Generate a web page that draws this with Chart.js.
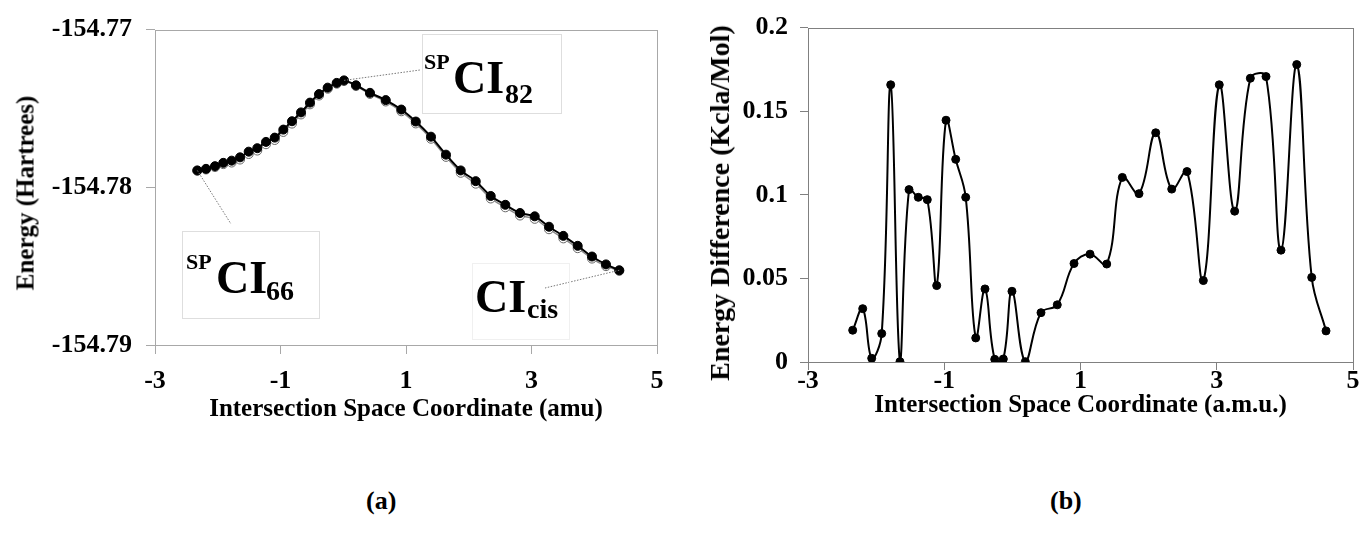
<!DOCTYPE html>
<html><head><meta charset="utf-8">
<script src="https://cdn.jsdelivr.net/npm/chart.js@4.4.1/dist/chart.umd.min.js"></script>
<style>
html,body{margin:0;padding:0;background:#fff;width:1362px;height:554px;overflow:hidden;font-family:"Liberation Serif","Times New Roman",serif;}
#ca{position:absolute;left:0;top:0;}
#cb{position:absolute;left:680px;top:0;}
.t{position:absolute;color:#000;font-weight:bold;line-height:1;white-space:nowrap;font-family:"Liberation Serif","Times New Roman",serif;}
.box{position:absolute;border:1px solid #dedede;}
.yt{position:absolute;color:#000;font-weight:bold;line-height:1;white-space:nowrap;font-family:"Liberation Serif","Times New Roman",serif;transform:translate(-50%,-50%) rotate(-90deg);}
</style></head>
<body>
<canvas id="ca" width="680" height="445"></canvas>
<canvas id="cb" width="682" height="445"></canvas>

<div class="yt" style="left:25px;top:193px;font-size:25px;">Energy (Hartrees)</div>
<div class="yt" style="left:720px;top:203px;font-size:28px;">Energy Difference (Kcla/Mol)</div>

<div class="box" style="left:422px;top:34px;width:138px;height:78px;"></div>
<div class="t" style="left:424px;top:51px;font-size:22px;">SP</div>
<div class="t" style="left:453px;top:55px;font-size:46px;">CI</div>
<div class="t" style="left:505px;top:80px;font-size:28px;">82</div>

<div class="box" style="left:182px;top:231px;width:136px;height:86px;"></div>
<div class="t" style="left:186px;top:251px;font-size:22px;">SP</div>
<div class="t" style="left:216px;top:255px;font-size:46px;">CI</div>
<div class="t" style="left:266px;top:277px;font-size:28px;">66</div>

<div class="box" style="left:472px;top:263px;width:96px;height:75px;border-color:#f0f0f0;"></div>
<div class="t" style="left:475px;top:274px;font-size:46px;">CI</div>
<div class="t" style="left:527px;top:295px;font-size:28px;">cis</div>

<div class="t" style="left:366px;top:488px;font-size:26px;">(a)</div>
<div class="t" style="left:1050px;top:488px;font-size:26px;">(b)</div>

<script>
// ---- Chart (a): energy along intersection space coordinate ----
const xA = [-2.326,-2.187,-2.044,-1.912,-1.778,-1.645,-1.507,-1.370,-1.231,-1.092,-0.955,-0.817,-0.673,-0.530,-0.386,-0.248,-0.104,0.012,0.203,0.426,0.677,0.925,1.156,1.398,1.637,1.872,2.111,2.350,2.583,2.817,3.051,3.279,3.507,3.736,3.964,4.187,4.399];
const yA = [-154.77893,-154.77883,-154.77866,-154.77845,-154.77831,-154.77810,-154.77774,-154.77752,-154.77712,-154.77685,-154.77634,-154.77581,-154.77525,-154.77463,-154.77409,-154.77368,-154.77338,-154.77322,-154.77353,-154.77401,-154.77447,-154.77507,-154.77583,-154.77679,-154.77793,-154.77893,-154.77961,-154.78055,-154.78111,-154.78163,-154.78184,-154.78250,-154.78308,-154.78371,-154.78439,-154.78489,-154.78526];
const yA2 = [-154.77895,-154.77887,-154.77872,-154.77853,-154.77843,-154.77824,-154.77789,-154.77767,-154.77727,-154.77700,-154.77649,-154.77596,-154.77538,-154.77474,-154.77418,-154.77375,-154.77343,-154.77326,-154.77358,-154.77408,-154.77456,-154.77518,-154.77595,-154.77692,-154.77807,-154.77908,-154.77977,-154.78071,-154.78127,-154.78179,-154.78200,-154.78266,-154.78324,-154.78386,-154.78452,-154.78500,-154.78530];
const xTicksA = [-3,-1,1,3,5];
const xTickLabelsA = ['-3','-1','1','3','5'];
const yTicksA = [-154.79,-154.78,-154.77];
const yTickLabelsA = ['-154.79','-154.78','-154.77'];

// ---- Chart (b): energy difference ----
const xB = [-2.344,-2.197,-2.065,-1.918,-1.786,-1.650,-1.517,-1.381,-1.249,-1.111,-0.974,-0.832,-0.685,-0.538,-0.402,-0.259,-0.133,-0.006,0.190,0.420,0.659,0.905,1.140,1.385,1.614,1.859,2.104,2.339,2.563,2.803,3.037,3.263,3.493,3.723,3.943,4.174,4.394,4.604];
const yB = [0.0190,0.0319,0.0022,0.0170,0.1658,0.0002,0.1031,0.0985,0.0971,0.0457,0.1446,0.1212,0.0985,0.0144,0.0437,0.0016,0.0018,0.0423,0.0002,0.0295,0.0342,0.0589,0.0645,0.0586,0.1104,0.1007,0.1371,0.1034,0.1139,0.0487,0.1658,0.0902,0.1697,0.1707,0.0669,0.1779,0.0506,0.0186];
const xTicksB = [-3,-1,1,3,5];
const xTickLabelsB = ['-3','-1','1','3','5'];
const yTicksB = [0,0.05,0.1,0.15,0.2];
const yTickLabelsB = ['0','0.05','0.1','0.15','0.2'];

const SERIF = '"Liberation Serif","Times New Roman",serif';

const frame = {
  id:'frame',
  beforeDatasetsDraw(chart, args, opts){
    const {ctx, chartArea:a} = chart;
    ctx.save();
    ctx.strokeStyle = opts.color; ctx.lineWidth = 1;
    ctx.strokeRect(Math.round(a.left)+0.5, Math.round(a.top)+0.5, Math.round(a.right-a.left), Math.round(a.bottom-a.top));
    ctx.restore();
  }
};

const leaders = {
  id:'leaders',
  afterDatasetsDraw(chart, args, opts){
    if(!opts.items) return;
    const {ctx} = chart; const xs = chart.scales.x, ys = chart.scales.y;
    ctx.save();
    ctx.strokeStyle = '#777'; ctx.lineWidth = 1; ctx.setLineDash([1.5,1.5]);
    opts.items.forEach(it => {
      const px = xs.getPixelForValue(xA[it.i]), py = ys.getPixelForValue(yA[it.i]);
      ctx.beginPath(); ctx.moveTo(px,py); ctx.lineTo(it.to[0], it.to[1]); ctx.stroke();
    });
    ctx.restore();
  }
};

function mkTicks(values, labels){
  return {
    afterBuildTicks(s){ s.ticks = values.map(v => ({value:v})); },
    cb(v){ const k = values.findIndex(t => Math.abs(t - v) < 1e-9); return k >= 0 ? labels[k] : ''; }
  };
}

function makeChart(id, cfg){
  const tx = mkTicks(cfg.xTicks, cfg.xLabels), ty = mkTicks(cfg.yTicks, cfg.yLabels);
  return new Chart(document.getElementById(id), {
    type:'line',
    data:{ datasets: cfg.datasets },
    options:{
      responsive:false, animation:false,
      layout:{ padding: cfg.padding },
      plugins:{ legend:{display:false}, tooltip:{enabled:false}, frame:{color:cfg.axisColor}, leaders:{items:cfg.leaders} },
      scales:{
        x:{ type:'linear', min:cfg.xTicks[0], max:cfg.xTicks[cfg.xTicks.length-1],
            afterBuildTicks: tx.afterBuildTicks,
            afterFit(s){ s.height = cfg.xHeight; },
            border:{display:false},
            grid:{ drawOnChartArea:false, drawTicks:true, tickLength:cfg.tickLen, color:cfg.axisColor, tickColor:cfg.axisColor },
            ticks:{ callback: tx.cb, color:'#000', padding:cfg.xTickPad, maxRotation:0, font:{family:SERIF, size:cfg.tickSize, weight:'bold'} },
            title:{ display:true, text:cfg.xTitle, color:'#000', padding:{top:0,bottom:cfg.xTitlePad}, font:{family:SERIF, size:25, weight:'bold'} } },
        y:{ type:'linear', min:cfg.yTicks[0], max:cfg.yTicks[cfg.yTicks.length-1],
            afterBuildTicks: ty.afterBuildTicks,
            afterFit(s){ s.width = cfg.yWidth; },
            border:{display:false},
            grid:{ drawOnChartArea:false, drawTicks:true, tickLength:cfg.tickLen, color:cfg.axisColor, tickColor:cfg.axisColor },
            ticks:{ callback: ty.cb, color:'#000', padding:cfg.yTickPad, font:{family:SERIF, size:cfg.tickSize, weight:'bold'} },
            title:{ display:false } }
      }
    },
    plugins:[frame, leaders]
  });
}

makeChart('ca', {
  datasets:[
    { data: xA.map((x,i)=>({x, y:yA[i]})), order:0, borderColor:'#000', borderWidth:2, tension:0.3,
      pointRadius:4.5, pointBackgroundColor:'#000', pointBorderColor:'#000', pointBorderWidth:1 },
    { data: xA.map((x,i)=>({x, y:yA2[i]})), order:1, borderColor:'#8a8a8a', borderWidth:1.5, tension:0.3,
      pointRadius:4.5, pointBackgroundColor:'#fff', pointBorderColor:'#666', pointBorderWidth:1 }
  ],
  xTicks:xTicksA, xLabels:xTickLabelsA, yTicks:yTicksA, yLabels:yTickLabelsA,
  padding:{left:5, top:26, right:23, bottom:0},
  xHeight:100, yWidth:150, tickLen:9, tickSize:26, xTickPad:12, yTickPad:14,
  xTitle:'Intersection Space Coordinate (amu)', xTitlePad:20,
  axisColor:'#a8a8a8',
  leaders:[ {i:17, to:[420,70]}, {i:0, to:[231,224]}, {i:36, to:[545,288]} ]
});

makeChart('cb', {
  datasets:[
    { data: xB.map((x,i)=>({x, y:yB[i]})), borderColor:'#000', borderWidth:2, tension:0.4,
      pointRadius:4, pointBackgroundColor:'#000', pointBorderColor:'#000', pointBorderWidth:1 }
  ],
  xTicks:xTicksB, xLabels:xTickLabelsB, yTicks:yTicksB, yLabels:yTickLabelsB,
  padding:{left:5, top:25, right:9, bottom:0},
  xHeight:83, yWidth:123, tickLen:8, tickSize:26, xTickPad:-4, yTickPad:12,
  xTitle:'Intersection Space Coordinate (a.m.u.)', xTitlePad:24,
  axisColor:'#808080',
  leaders:null
});
</script>
</body></html>
